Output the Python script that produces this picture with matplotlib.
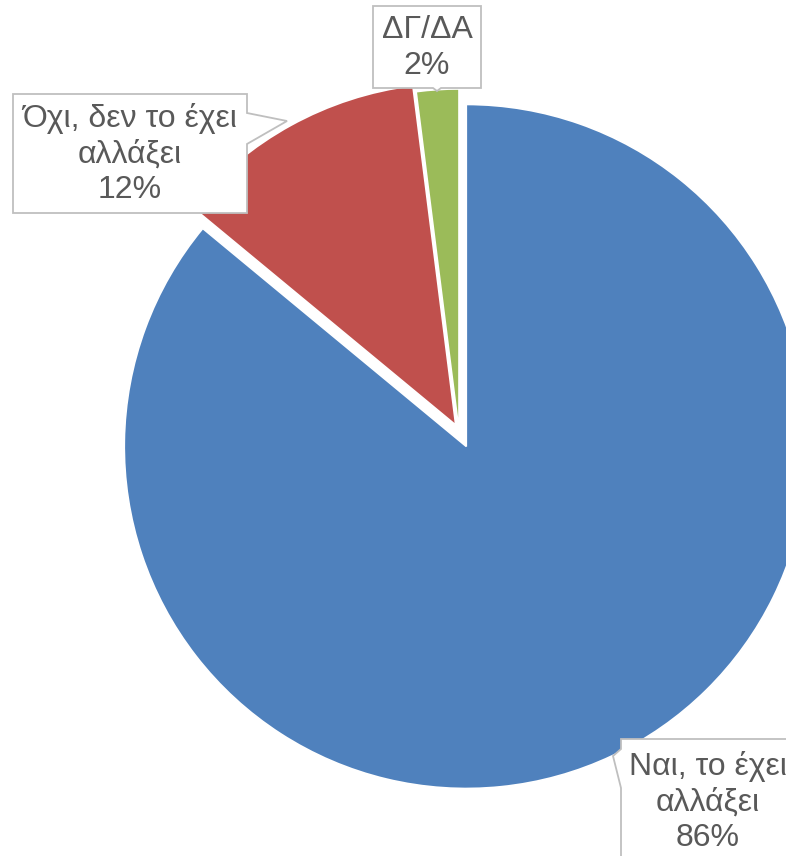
import matplotlib.pyplot as plt
from matplotlib.patches import Polygon

# chart data
labels = ["Ναι, το έχει\nαλλάξει", "Όχι, δεν το έχει\nαλλάξει", "ΔΓ/ΔΑ"]
values = [86, 12, 2]
colors = ["#4F81BD", "#C0504D", "#9BBB59"]
explode_frac = [0.05, 0.02, 0.0]

W, H = 786, 856
R = 342

def flip(pts):
    # pixel coords (y down) -> axes coords (y up)
    return [(x, H - y) for x, y in pts]

fig = plt.figure(figsize=(W / 100, H / 100), dpi=100)
ax = fig.add_axes([0, 0, 1, 1])

# pie explode is in data units, so scale by the radius
ax.pie(values, colors=colors, startangle=90, counterclock=False,
       explode=[e * R for e in explode_frac], radius=R, center=(459, H - 431),
       wedgeprops=dict(edgecolor="white", linewidth=1.2))

ax.set_xlim(0, W)
ax.set_ylim(0, H)
ax.set_aspect("equal")
ax.axis("off")

box_kw = dict(closed=True, facecolor="white", edgecolor="#BFBFBF", linewidth=1.3, zorder=5)
txt_kw = dict(ha="center", va="center", fontsize=23, color="#595959",
              family="Liberation Sans", zorder=6, linespacing=1.22)

# callout boxes
red_box = [(13, 94), (247, 94), (247, 113), (287, 121), (247, 144), (247, 213), (13, 213)]
green_box = [(373, 6), (481, 6), (481, 88), (441, 88), (437, 91), (433, 88), (373, 88)]
blue_box = [(621, 739), (800, 739), (800, 870), (621, 870), (621, 788), (613, 756), (621, 749)]
for pts in (red_box, green_box, blue_box):
    ax.add_patch(Polygon(flip(pts), **box_kw))

pcts = ["%d%%" % v for v in values]
ax.text(130, H - 154, labels[1] + "\n" + pcts[1], **txt_kw)
ax.text(427, H - 48, labels[2] + "\n" + pcts[2], **txt_kw)
ax.text(708, H - 802, labels[0] + "\n" + pcts[0], **txt_kw)

fig.savefig("out.png", dpi=100)
